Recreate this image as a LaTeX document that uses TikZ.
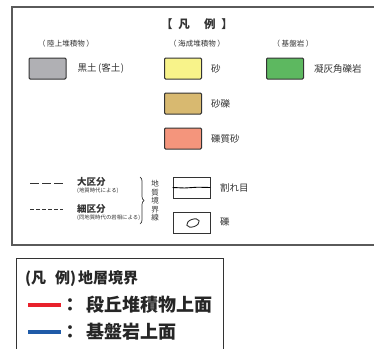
\documentclass[tikz,border=0pt]{standalone}
\usepackage{fontspec}
\newfontfamily\jp{Noto Sans CJK JP}
\usepackage{tikz}
\usetikzlibrary{shapes.geometric,positioning,decorations.pathreplacing}
\definecolor{inkgray}{HTML}{333333}
\definecolor{framegray}{HTML}{5A5A5A}
\definecolor{soilgray}{HTML}{B0B0B4}
\definecolor{sandyellow}{HTML}{F8F38A}
\definecolor{gravelsand}{HTML}{D8B970}
\definecolor{pebblysand}{HTML}{F4957C}
\definecolor{tuffgreen}{HTML}{5DB860}
\definecolor{terracered}{HTML}{E8212B}
\definecolor{basementblue}{HTML}{1F5BA8}

\begin{document}
\begin{tikzpicture}[x=1pt,y=-1pt,
  swatch/.style={draw=inkgray,line width=1pt,rounded corners=1.2pt,minimum width=37pt,minimum height=21pt,inner sep=0pt},
  lbl/.style={font=\jp\fontsize{9.5}{9.5}\selectfont,text=inkgray,anchor=west,inner sep=0pt},
  cat/.style={font=\jp\fontsize{7.5}{7.5}\selectfont,text=inkgray,inner sep=0pt},
  note/.style={font=\jp\fontsize{5.4}{5.4}\selectfont,text=inkgray,anchor=west,inner sep=0pt},
  sample/.style={draw=inkgray,line width=0.8pt,minimum width=37pt,minimum height=21pt,inner sep=0pt},
  head/.style={font=\jp\bfseries\fontsize{15}{15}\selectfont,text=black!85,anchor=west,inner sep=0pt},
  big/.style={font=\jp\bfseries\fontsize{18}{18}\selectfont,text=black!85,inner sep=0pt},
  bound/.style={line width=4pt}
]
\useasboundingbox (0,0) rectangle (374,348);
\clip (0,0) rectangle (374,348);
% upper legend
\draw[framegray,line width=1.5pt] (12,7) rectangle (400,245);
\node[font=\jp\bfseries\fontsize{11.5}{11.5}\selectfont,text=inkgray,inner sep=0pt] (title) at (197,24) {【\hspace{6pt}凡\hspace{14pt}例\hspace{6pt}】};
\node[cat] (land) at (66,44) {（ 陸上堆積物 ）};
\node[cat] (marine) at (197,44) {（ 海成堆積物 ）};
\node[cat] (base) at (293,44) {（ 基盤岩 ）};
\node[swatch,fill=soilgray] (soil) at (47.5,68.5) {};
\node[swatch,fill=sandyellow] (sand) at (183,68.5) {};
\node[swatch,fill=gravelsand] (gravel) at (183,103.5) {};
\node[swatch,fill=pebblysand] (pebbly) at (183,138.5) {};
\node[swatch,fill=tuffgreen] (tuff) at (285,68.5) {};
\node[lbl,right=11pt of soil] (soiltxt) {黒土\kern1.5pt(客土\kern0.5pt)};
\node[lbl,right=9pt of sand] (sandtxt) {砂};
\node[lbl,right=9pt of gravel] (graveltxt) {砂礫};
\node[lbl,right=9pt of pebbly] (pebblytxt) {礫質砂};
\node[lbl,right=10pt of tuff] (tufftxt) {凝灰角礫岩};
% boundary lines
\coordinate (majorA) at (30,183);
\coordinate (majorB) at (63,183);
\coordinate (minorA) at (30,209);
\coordinate (minorB) at (63,209);
\draw[inkgray,line width=0.6pt,dash pattern=on 9pt off 3pt] (majorA) -- (majorB);
\draw[inkgray,line width=0.6pt,dash pattern=on 3.5pt off 2.5pt] (minorA) -- (minorB);
\node[lbl,font=\jp\bfseries\fontsize{9.5}{9.5}\selectfont] (major) at (77,182) {大区分};
\node[note] (majornote) at (77,191) {(地質時代による)};
\node[lbl,font=\jp\bfseries\fontsize{9.5}{9.5}\selectfont] (minor) at (77,209) {細区分};
\node[note] (minornote) at (77,218) {(同地質時代の岩相による)};
\coordinate (braceA) at (140,177);
\coordinate (braceB) at (140,224);
\draw[inkgray,line width=0.7pt,decorate,decoration={brace,amplitude=4pt}] (braceA) -- (braceB);
\node[cat,align=center,font=\jp\fontsize{7.5}{8.5}\selectfont] (geoline) at (155,201) {地\\質\\境\\界\\線};
\node[sample] (crack) at (191.5,187.5) {};
\draw[black,line width=0.9pt] (crack.west) -- ++(12,0.5) -- ++(13,-0.8) -- (crack.east);
\node[sample] (clast) at (191.5,222.5) {};
\node[draw=inkgray,line width=0.9pt,ellipse,minimum width=13pt,minimum height=7.5pt,inner sep=0pt,rotate=20] (pebble) at (193,223) {};
\node[lbl] (cracktxt) at (220,188) {割れ目};
\node[lbl] (clasttxt) at (220,222) {礫};
% lower legend
\draw[inkgray,line width=1pt] (16,258) rectangle (223,400);
\node[head] (lowerhead) at (25,279) {(凡\hspace{9pt}例)\hspace{2pt}地層境界};
\coordinate (redA) at (28,305);
\coordinate (redB) at (61,305);
\coordinate (blueA) at (28,332);
\coordinate (blueB) at (61,332);
\draw[bound,terracered] (redA) -- (redB);
\draw[bound,basementblue] (blueA) -- (blueB);
\node[big] (colonA) at (70,305) {：};
\node[big] (colonB) at (70,332) {：};
\node[big,anchor=west] (terrace) at (86,305) {段丘堆積物上面};
\node[big,anchor=west] (basement) at (86,332) {基盤岩上面};
\end{tikzpicture}
\end{document}
